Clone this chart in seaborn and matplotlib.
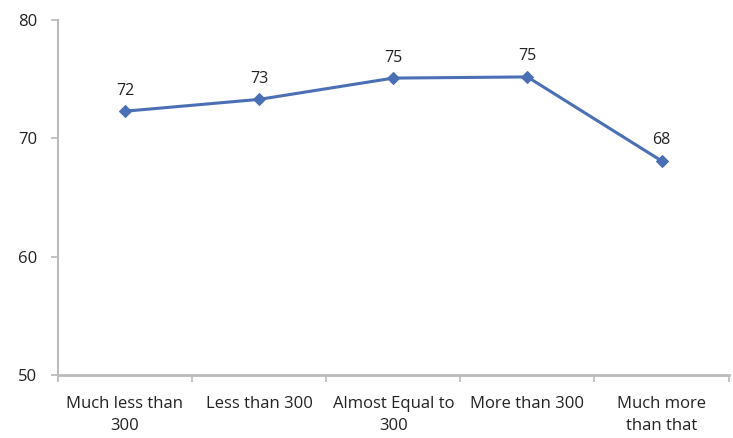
import matplotlib
matplotlib.use("Agg")
import matplotlib.pyplot as plt
import seaborn as sns
import pandas as pd
import numpy as np

categories = ["Much less than\n300", "Less than 300", "Almost Equal to\n300", "More than 300", "Much more\nthan that"]
values = [72.3, 73.3, 75.1, 75.2, 68.1]
labels = ["72", "73", "75", "75", "68"]

sns.set_theme(style="white")
plt.rcParams['font.family'] = ['Open Sans', 'DejaVu Sans']

df = pd.DataFrame({"pos": np.arange(len(categories)), "value": values})

fig = plt.figure(figsize=(7.33, 4.38), dpi=100)
ax = fig.add_axes([0.079, 0.144, 0.915, 0.81])
sns.lineplot(data=df, x="pos", y="value", ax=ax, color="#4a6fb5", linewidth=2.2,
             marker="D", markersize=6, markeredgecolor="#4a6fb5")

for x, v, l in zip(df["pos"], values, labels):
    ax.annotate(l, (x, v), xytext=(0, 9), textcoords="offset points",
                ha="center", va="bottom", fontsize=11.5, color="#222222")

ax.set_xlim(-0.5, len(categories) - 0.5)
ax.set_ylim(50, 80)
ax.set_yticks([50, 60, 70, 80])
ax.set_xticks(np.arange(-0.5, len(categories), 1.0))
ax.set_xticklabels([])
ax.set_xticks(np.arange(len(categories)), minor=True)
ax.set_xticklabels(categories, minor=True, fontsize=12, color="#222222", linespacing=1.55)
ax.tick_params(axis="x", which="major", length=5, color="#bbbbbb", direction="out", bottom=True)
ax.tick_params(axis="x", which="minor", length=0, pad=15)
ax.tick_params(axis="y", length=5, color="#bbbbbb", direction="out", left=True, labelsize=12,
               labelcolor="#222222", pad=10)
ax.set_xlabel("")
ax.set_ylabel("")
sns.despine(ax=ax)
ax.spines["left"].set_color("#bbbbbb")
ax.spines["left"].set_linewidth(1.5)
ax.spines["bottom"].set_color("#bbbbbb")
ax.spines["bottom"].set_linewidth(2)

fig.savefig("out.png", dpi=100)
